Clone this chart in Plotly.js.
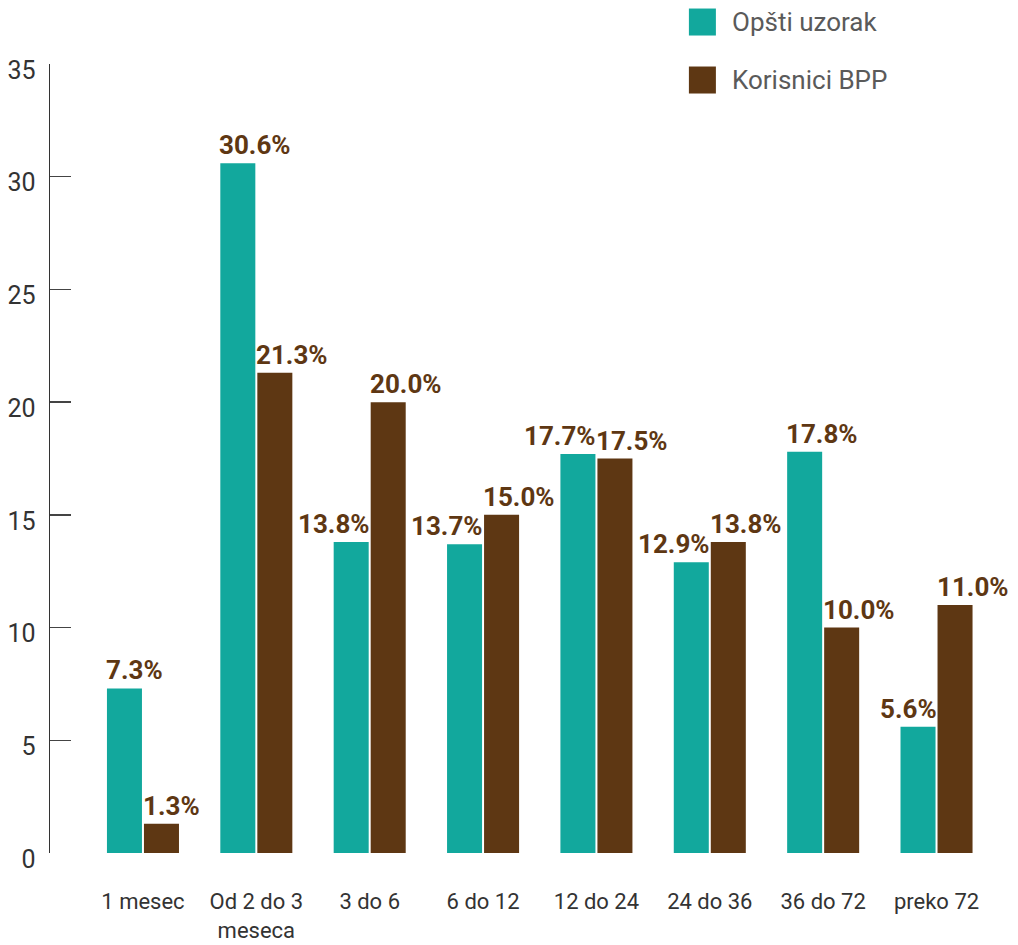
<!DOCTYPE html>
<html>
<head>
<meta charset="utf-8">
<script src="https://cdn.plot.ly/plotly-3.0.1.min.js"></script>
<style>
html,body{margin:0;padding:0;background:#fff;}
#chart{width:1018px;height:945px;}
</style>
</head>
<body>
<div id="chart"></div>
<script>
var categories = ["1 mesec", "Od 2 do 3<br>meseca", "3 do 6", "6 do 12", "12 do 24", "24 do 36", "36 do 72", "preko 72"];
var opstiUzorak = [7.3, 30.6, 13.8, 13.7, 17.7, 12.9, 17.8, 5.6];
var korisniciBPP = [1.3, 21.3, 20.0, 15.0, 17.5, 13.8, 10.0, 11.0];
var seriesNames = ["Opšti uzorak", "Korisnici BPP"];
var yTicks = [0, 5, 10, 15, 20, 25, 30, 35];

var teal = "#12a89d";
var brown = "#5e3713";
var labelFont = {family: "Roboto, 'DejaVu Sans', sans-serif", size: 26, color: brown, weight: 700};

var traces = [
  {type: "bar", name: seriesNames[0], x: categories, y: opstiUzorak, marker: {color: teal}, hoverinfo: "skip"},
  {type: "bar", name: seriesNames[1], x: categories, y: korisniciBPP, marker: {color: brown}, hoverinfo: "skip"}
];

var annotations = [];
categories.forEach(function (c, i) {
  var a = opstiUzorak[i], b = korisniciBPP[i];
  var rightAlign = (a - b) < 2;
  annotations.push({
    x: c, y: a, xref: "x", yref: "y", text: a.toFixed(1) + "%", showarrow: false,
    xanchor: rightAlign ? "right" : "left", yanchor: "bottom",
    xshift: rightAlign ? 2 : -39, yshift: 1, font: labelFont
  });
  annotations.push({
    x: c, y: b, xref: "x", yref: "y", text: b.toFixed(1) + "%", showarrow: false,
    xanchor: "left", yanchor: "bottom", xshift: -2, yshift: 1, font: labelFont
  });
});

// legend
var legendColors = [teal, brown];
var shapes = [];
var legY = [1.0532, 0.9797];
seriesNames.forEach(function (n, i) {
  shapes.push({type: "rect", xref: "paper", yref: "paper", xsizemode: "pixel", ysizemode: "pixel",
    xanchor: 0.669, yanchor: legY[i], x0: 0, x1: 27, y0: -13.5, y1: 13.5,
    fillcolor: legendColors[i], line: {width: 0}});
  annotations.push({xref: "paper", yref: "paper", x: 0.712, y: legY[i], xanchor: "left", yanchor: "middle",
    text: n, showarrow: false, font: {family: "Roboto, sans-serif", size: 26, color: "#5a5a5a"}});
});

var layout = {
  width: 1018, height: 945,
  margin: {l: 50, r: 13, t: 64, b: 92, pad: 0},
  paper_bgcolor: "#ffffff", plot_bgcolor: "#ffffff",
  barmode: "group", bargap: 0.347, bargroupgap: 0.054,
  showlegend: false,
  font: {family: "Roboto, sans-serif", color: "#333333"},
  xaxis: {
    type: "category", range: [-0.82, 7.604], showline: false, zeroline: false, showgrid: false,
    ticks: "", tickfont: {size: 22, color: "#333333"}, ticklabelstandoff: 33, fixedrange: true
  },
  yaxis: {
    range: [0, 35], tickvals: yTicks, ticktext: yTicks.map(String),
    showline: true, linecolor: "#333333", linewidth: 1.5, showgrid: false, zeroline: false,
    ticks: "inside", ticklen: 21, tickwidth: 1.3, tickcolor: "#444444",
    tickfont: {size: 25, color: "#333333"}, ticklabelstandoff: 8, ticklabelshift: 6, fixedrange: true
  },
  annotations: annotations,
  shapes: shapes
};

Plotly.newPlot("chart", traces, layout, {displayModeBar: false, staticPlot: true});
</script>
</body>
</html>
